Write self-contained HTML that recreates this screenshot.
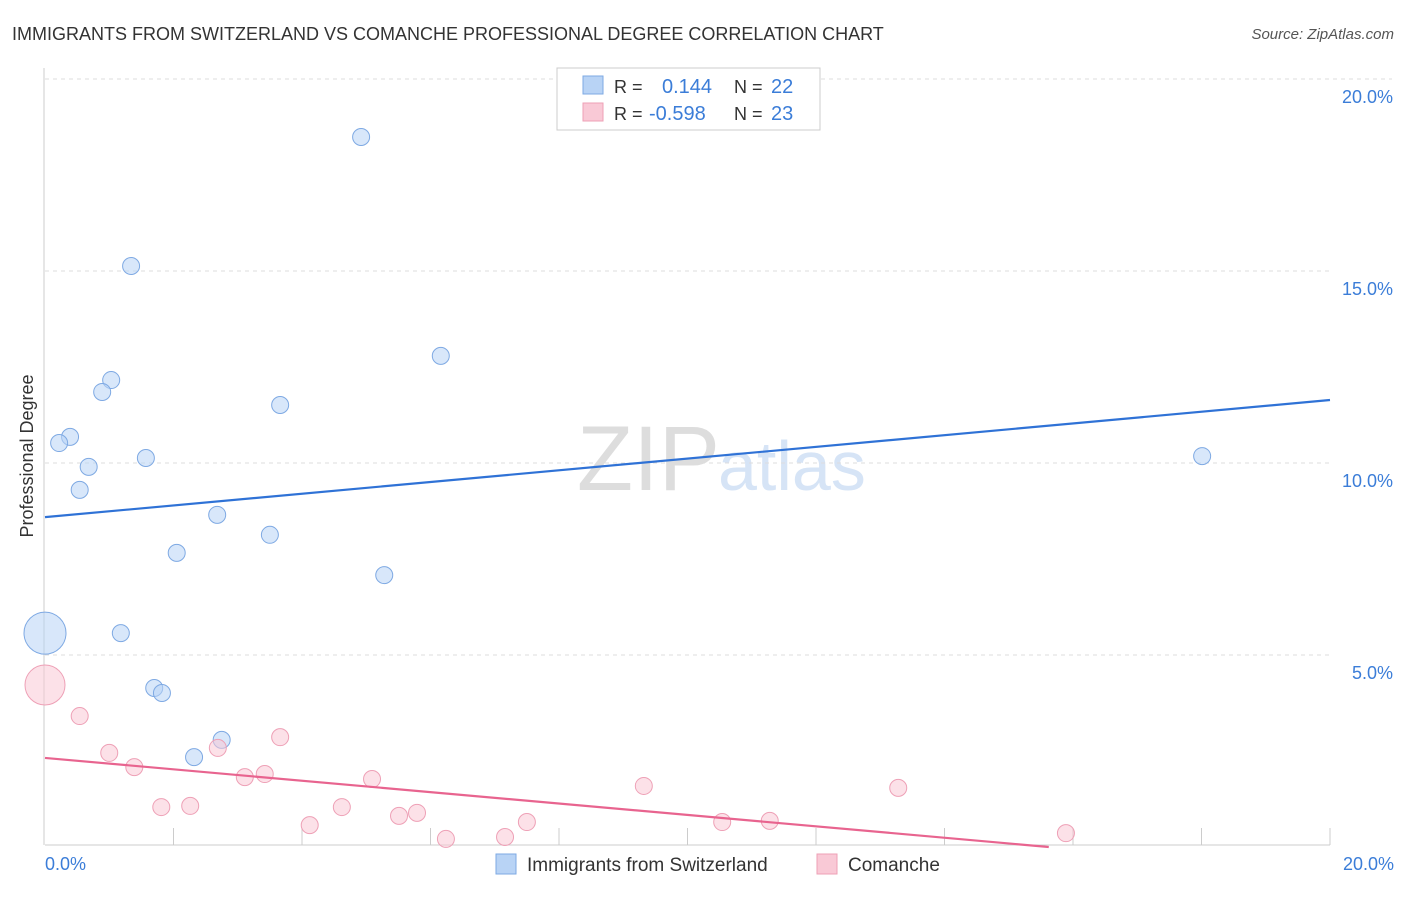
<!DOCTYPE html>
<html><head><meta charset="utf-8"><style>
body{margin:0;background:#fff;font-family:"Liberation Sans",sans-serif}
svg text{font-family:"Liberation Sans",sans-serif}
</style></head><body>
<svg id="c" width="1406" height="892">
<text x="12" y="40" font-size="18" fill="#333">IMMIGRANTS FROM SWITZERLAND VS COMANCHE PROFESSIONAL DEGREE CORRELATION CHART</text>
<text x="1394" y="39" font-size="15" fill="#555" font-style="italic" text-anchor="end">Source: ZipAtlas.com</text>
<text x="720" y="490" font-size="92" fill="#ddd" text-anchor="end" font-family="Liberation Serif">ZIP</text>
<text x="718" y="490" font-size="70" fill="#d6e4f6">atlas</text>
<g id="grid"></g><g id="axes"></g><g id="pts"></g><g id="lines"></g>
<text transform="translate(33,456) rotate(-90)" font-size="18" fill="#333" text-anchor="middle">Professional Degree</text>
<text x="45" y="870" font-size="18" fill="#3b7dd8">0.0%</text>
<text x="1394" y="870" font-size="18" fill="#3b7dd8" text-anchor="end">20.0%</text>
<g>
<rect x="557" y="68" width="263" height="62" fill="#fff" stroke="#ccc"/>
<rect x="583" y="76" width="20" height="18" fill="#b8d3f5" stroke="#7ea9e3"/>
<rect x="583" y="103" width="20" height="18" fill="#f9c9d6" stroke="#eea0b6"/>
<text x="614" y="93" font-size="18" fill="#333">R =</text><text x="662" y="93" font-size="20" fill="#3b7dd8">0.144</text>
<text x="734" y="93" font-size="18" fill="#333">N =</text><text x="771" y="93" font-size="20" fill="#3b7dd8">22</text>
<text x="614" y="120" font-size="18" fill="#333">R =</text><text x="649" y="120" font-size="20" fill="#3b7dd8">-0.598</text>
<text x="734" y="120" font-size="18" fill="#333">N =</text><text x="771" y="120" font-size="20" fill="#3b7dd8">23</text>
</g>
<g>
<rect x="496" y="854" width="20" height="20" fill="#b8d3f5" stroke="#7ea9e3"/>
<text x="527" y="871" font-size="19" fill="#333">Immigrants from Switzerland</text>
<rect x="817" y="854" width="20" height="20" fill="#f9c9d6" stroke="#eea0b6"/>
<text x="848" y="871" font-size="19" fill="#333">Comanche</text>
</g>
</svg>
<script>
const yTicks=[5,10,15,20];
const yTickLabels=["5.0%","10.0%","15.0%","20.0%"];
const xTicks=[2,4,6,8,10,12,14,16,18,20];
const blueX=[4.92,1.34,6.16,1.03,0.89,3.66,0.39,0.22,0.68,1.57,0.54,2.68,3.50,2.05,5.28,18.01,0,1.18,1.70,1.82,2.75,2.32];
const blueY=[18.49,15.13,12.79,12.16,11.85,11.51,10.68,10.52,9.90,10.13,9.30,8.65,8.13,7.66,7.08,10.18,5.57,5.57,4.14,4.01,2.79,2.34];
const pinkX=[0,0.54,1.00,1.39,2.69,3.66,3.11,3.42,1.81,2.26,4.12,4.62,5.09,5.51,5.79,6.24,7.16,7.50,9.32,10.54,11.28,13.28,15.89];
const pinkY=[4.22,3.41,2.45,2.08,2.58,2.86,1.82,1.90,1.04,1.07,0.57,1.04,1.77,0.81,0.89,0.21,0.26,0.65,1.59,0.65,0.68,1.54,0.36];
const blueTrend=[8.59,11.64];
const pinkTrend=[2.32,-0.65];
const X=v=>45+v*64.25, Y=v=>847-v*38.4;
const NS="http://www.w3.org/2000/svg";
function mk(p,t,a){const e=document.createElementNS(NS,t);for(const k in a)e.setAttribute(k,a[k]);document.getElementById(p).appendChild(e);return e;}
yTicks.forEach((t,i)=>{
 const l=mk('grid','line',{x1:45,x2:t===20?1392:1330,y1:Y(t),y2:Y(t),stroke:'#ddd','stroke-dasharray':'4,4'});
 
 
 const tx=mk('grid','text',{x:1393,y:Y(t)+24,'font-size':18,fill:'#3b7dd8','text-anchor':'end'});tx.textContent=yTickLabels[i];
 
 
});
const ax=mk('axes','line',{x1:45,x2:1330,y1:845,y2:845,stroke:'#ccc'});


const ay=mk('axes','line',{x1:44,x2:44,y1:68,y2:845,stroke:'#ccc'});


xTicks.forEach(t=>{const l=mk('axes','line',{x1:X(t),x2:X(t),y1:828,y2:845,stroke:'#ccc'});
 
 });
function pts(xs,ys,f,s,name){xs.forEach((x,i)=>{const r=x===0?(name==='blue-point'?21:20):8.5;
 const c=mk('pts','circle',{cx:X(x),cy:Y(ys[i]),r:r,fill:f,'fill-opacity':0.55,stroke:s,'stroke-width':1});
 
 });}
pts(blueX,blueY,'#b8d3f5','#7ea9e3','blue-point');
pts(pinkX,pinkY,'#f9c9d6','#eea0b6','pink-point');
const bl=mk('lines','line',{x1:X(0),y1:Y(blueTrend[0]),x2:X(20),y2:Y(blueTrend[1]),stroke:'#2f72d6','stroke-width':2.2});


const t0=pinkTrend[0]/(pinkTrend[0]-pinkTrend[1])*20;
const pl=mk('lines','line',{x1:X(0),y1:Y(pinkTrend[0]),x2:X(Math.min(20,t0)),y2:Y(Math.max(0,pinkTrend[0]+(pinkTrend[1]-pinkTrend[0])*Math.min(20,t0)/20)),stroke:'#e8648f','stroke-width':2.2});


</script>
</body></html>
